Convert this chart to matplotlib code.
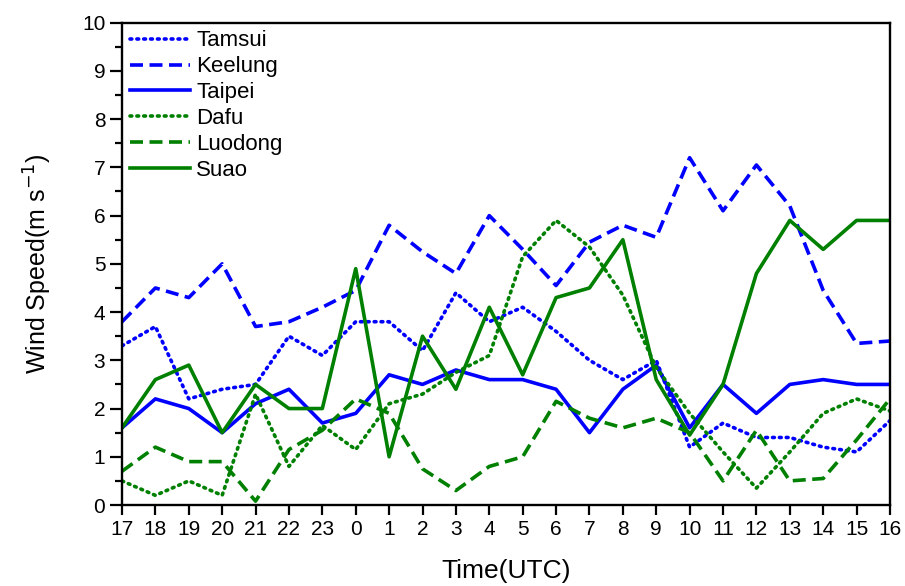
import matplotlib.pyplot as plt
from matplotlib.ticker import MultipleLocator

plt.rcParams["font.family"] = ["Liberation Sans", "DejaVu Sans"]

HOURS = ["17", "18", "19", "20", "21", "22", "23", "0", "1", "2", "3", "4",
         "5", "6", "7", "8", "9", "10", "11", "12", "13", "14", "15", "16"]

TAMSUI = [3.3, 3.7, 2.2, 2.4, 2.5, 3.5, 3.1, 3.8, 3.8, 3.2, 4.4, 3.8,
          4.1, 3.6, 3.0, 2.6, 3.0, 1.2, 1.7, 1.4, 1.4, 1.2, 1.1, 1.75]
KEELUNG = [3.8, 4.5, 4.3, 5.0, 3.7, 3.8, 4.1, 4.45, 5.8, 5.25, 4.8, 6.0,
           5.3, 4.55, 5.45, 5.8, 5.55, 7.2, 6.1, 7.05, 6.2, 4.45, 3.35, 3.4]
TAIPEI = [1.6, 2.2, 2.0, 1.5, 2.1, 2.4, 1.7, 1.9, 2.7, 2.5, 2.8, 2.6,
          2.6, 2.4, 1.5, 2.4, 2.9, 1.6, 2.5, 1.9, 2.5, 2.6, 2.5, 2.5]
DAFU = [0.5, 0.2, 0.5, 0.2, 2.3, 0.8, 1.65, 1.15, 2.1, 2.3, 2.75, 3.1,
        5.15, 5.9, 5.35, 4.35, 2.85, 1.9, 1.1, 0.35, 1.1, 1.9, 2.2, 1.95]
LUODONG = [0.7, 1.2, 0.9, 0.9, 0.08, 1.15, 1.55, 2.2, 1.9, 0.75, 0.3, 0.8,
           1.0, 2.15, 1.8, 1.6, 1.8, 1.5, 0.5, 1.55, 0.5, 0.55, 1.35, 2.2]
SUAO = [1.6, 2.6, 2.9, 1.5, 2.5, 2.0, 2.0, 4.9, 1.0, 3.5, 2.4, 4.1,
        2.7, 4.3, 4.5, 5.5, 2.6, 1.45, 2.5, 4.8, 5.9, 5.3, 5.9, 5.9]

BLUE = "#0000ff"
GREEN = "#008000"
DOT = (0, (0.5, 1.4))
DASH = (0, (3.6, 1.8))

SERIES = [
    ("Tamsui", TAMSUI, BLUE, DOT),
    ("Keelung", KEELUNG, BLUE, DASH),
    ("Taipei", TAIPEI, BLUE, "-"),
    ("Dafu", DAFU, GREEN, DOT),
    ("Luodong", LUODONG, GREEN, DASH),
    ("Suao", SUAO, GREEN, "-"),
]

fig = plt.figure(figsize=(9.05, 5.86), dpi=100)
ax = fig.add_axes([0.1348, 0.1382, 0.8486, 0.8231])

x = list(range(len(HOURS)))
for name, vals, color, ls in SERIES:
    line, = ax.plot(x, vals, color=color, linestyle=ls, linewidth=2.6, label=name)
    if ls == DOT:
        line.set_dash_capstyle("round")

ax.set_xlim(0, len(HOURS) - 1)
ax.set_ylim(0, 10)
ax.set_xticks(x)
ax.set_xticklabels(HOURS)
ax.yaxis.set_major_locator(MultipleLocator(1))
ax.yaxis.set_minor_locator(MultipleLocator(0.5))
ax.tick_params(axis="both", which="major", direction="out", width=1.6,
               labelsize=15, top=False, right=False)
ax.tick_params(axis="x", which="major", length=7)
ax.tick_params(axis="y", which="major", length=8.5)
ax.tick_params(axis="y", which="minor", direction="out", length=5, width=1.6)
for sp in ax.spines.values():
    sp.set_linewidth(1.7)

ax.set_xlabel("Time(UTC)", fontsize=19, labelpad=15)
ax.set_ylabel("Wind Speed(m s$^{-1}$)", fontsize=18, labelpad=20)

ax.legend(loc="upper left", frameon=False, fontsize=16, handlelength=2.7,
          handletextpad=0.3, labelspacing=0.22, borderaxespad=0.15,
          borderpad=0.2, bbox_to_anchor=(0.0, 1.0))

fig.savefig("out.png", dpi=100)
